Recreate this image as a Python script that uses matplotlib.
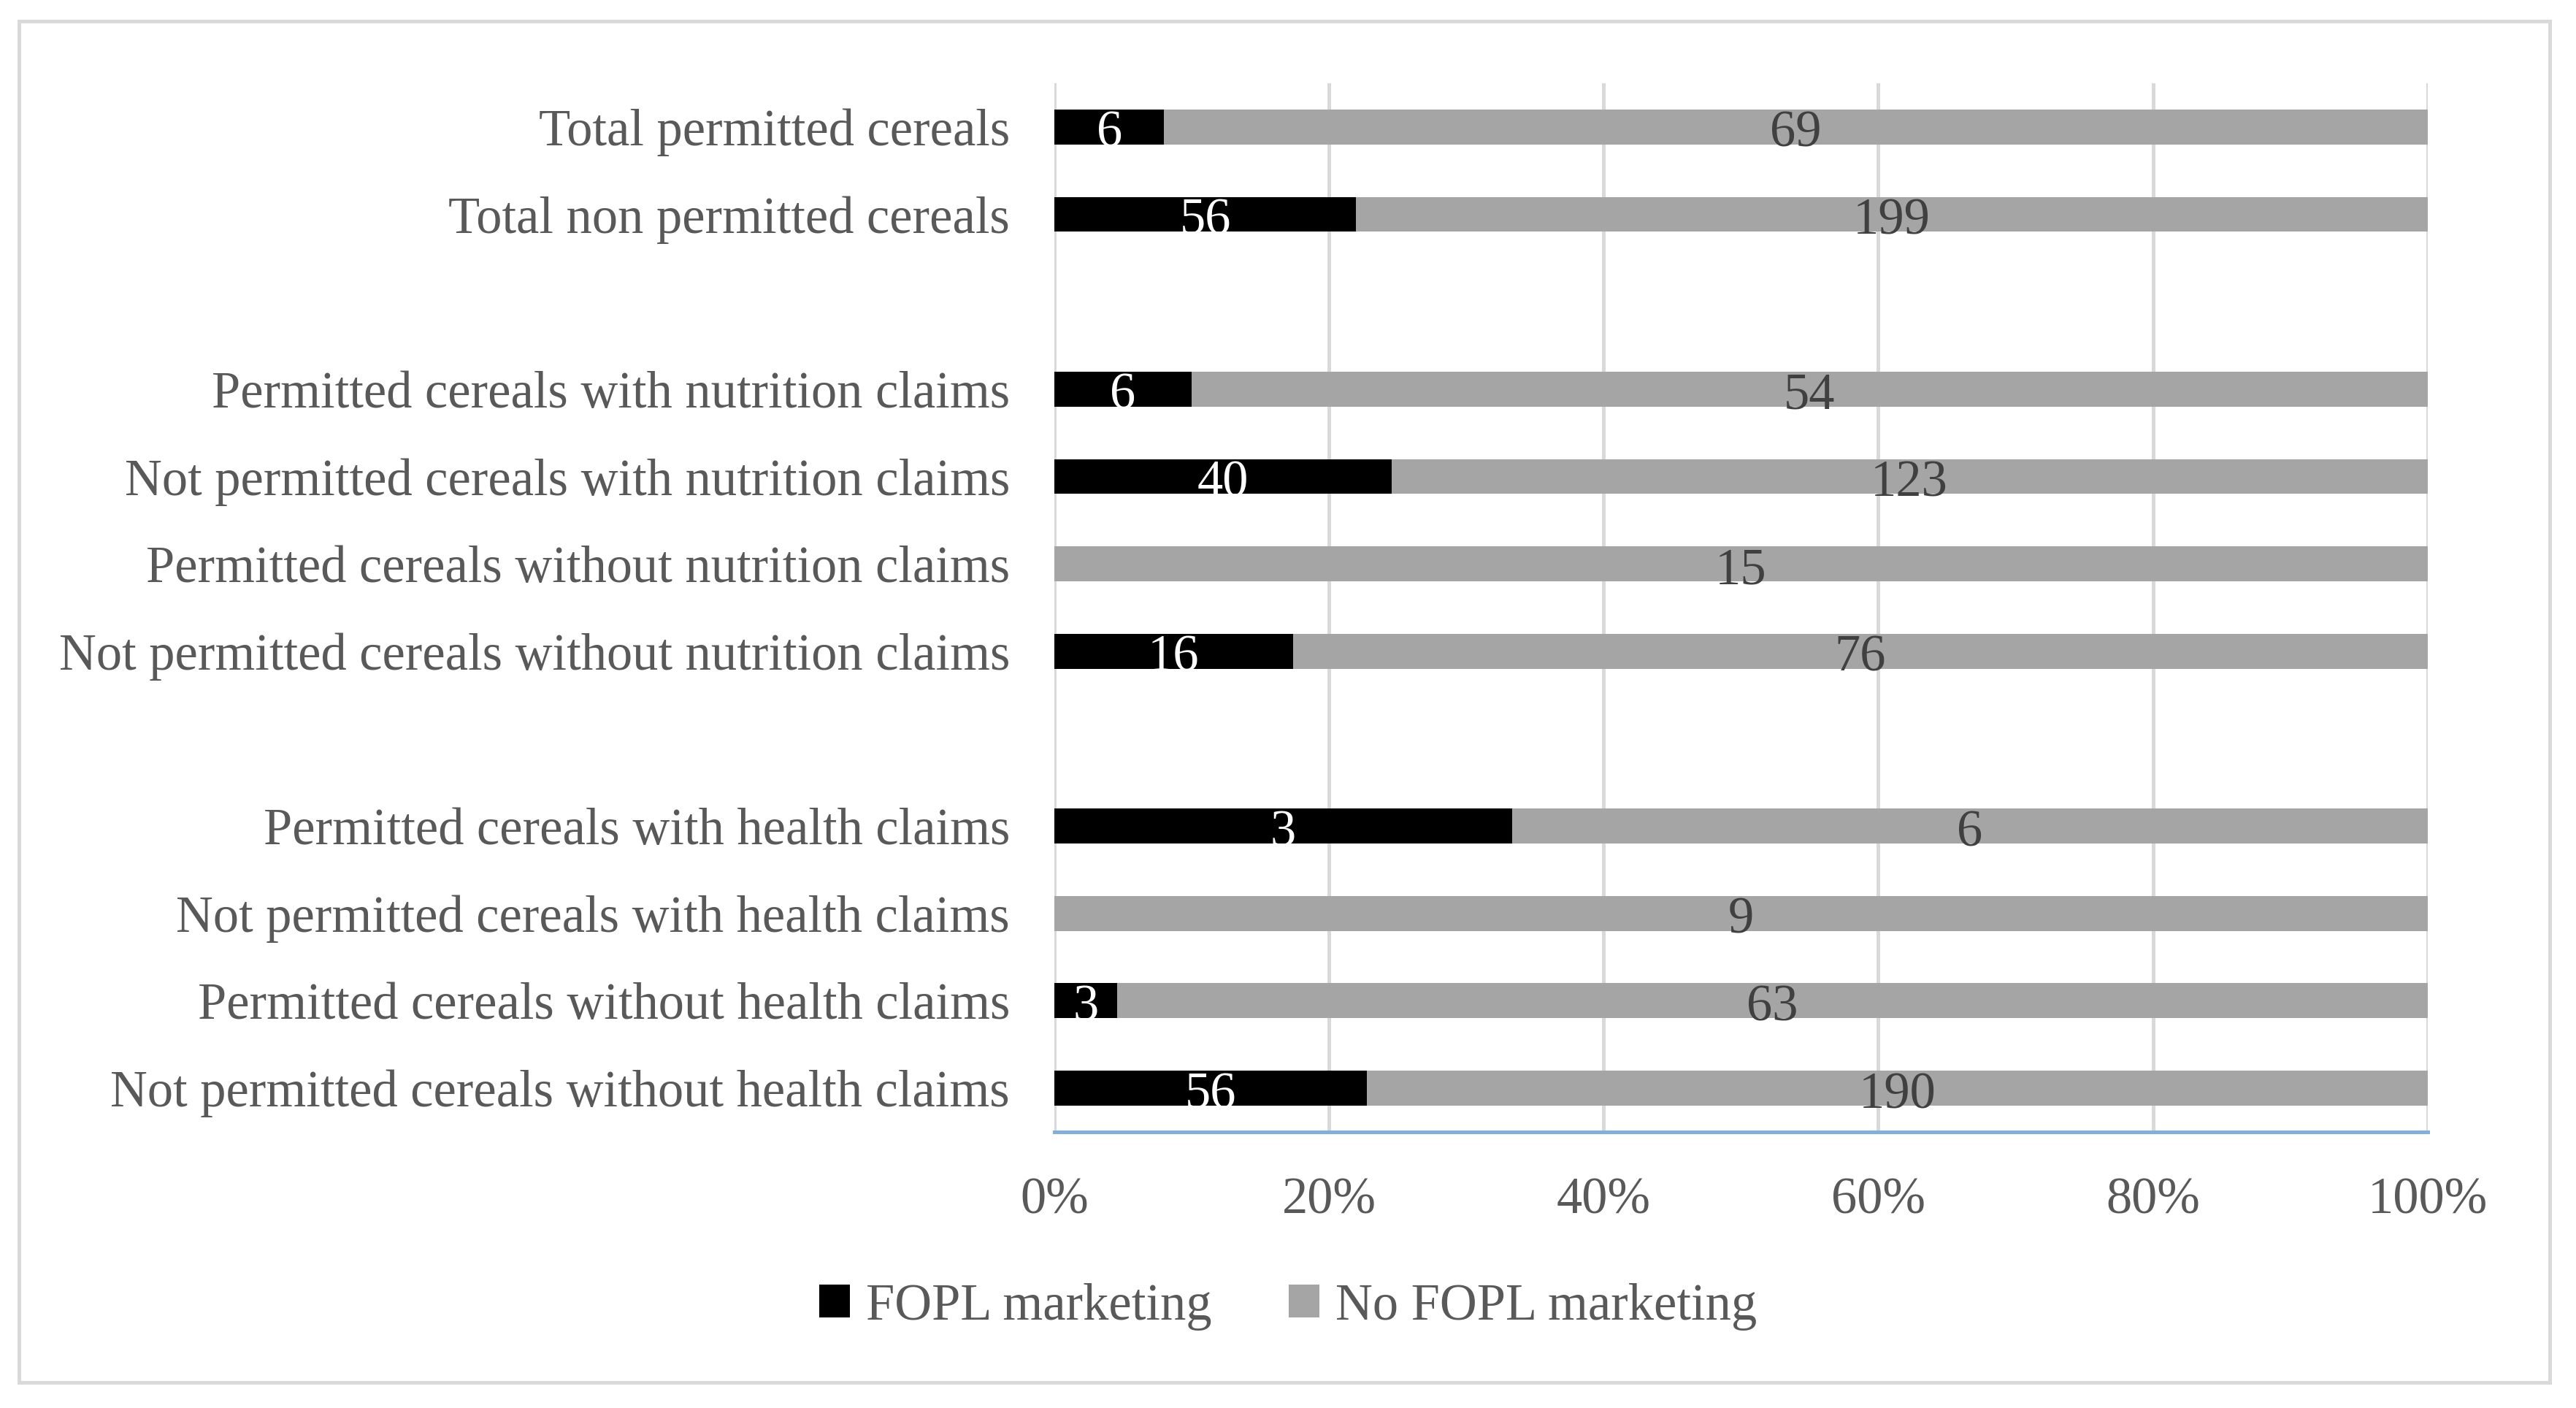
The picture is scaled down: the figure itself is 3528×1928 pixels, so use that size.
import numpy as np
import matplotlib.pyplot as plt
import matplotlib.patches as patches

# categories, top to bottom (blank entries are spacer rows)
categories = [
    'Total permitted cereals',
    'Total non permitted cereals',
    '',
    'Permitted cereals with nutrition claims',
    'Not permitted cereals with nutrition claims',
    'Permitted cereals without nutrition claims',
    'Not permitted cereals without nutrition claims',
    '',
    'Permitted cereals with health claims',
    'Not permitted cereals with health claims',
    'Permitted cereals without health claims',
    'Not permitted cereals without health claims',
]
fopl = [6, 56, 0, 6, 40, 0, 16, 0, 3, 0, 3, 56]
no_fopl = [69, 199, 0, 54, 123, 15, 76, 0, 6, 9, 63, 190]
xticks = [0, 20, 40, 60, 80, 100]

plt.rcParams['font.family'] = ['Liberation Serif', 'DejaVu Serif']
fs = 25.4

fopl = np.array(fopl, dtype=float)
no_fopl = np.array(no_fopl, dtype=float)
total = fopl + no_fopl
safe = np.where(total == 0, 1, total)
p_fopl = np.where(total == 0, 0, fopl / safe * 100)
p_no = np.where(total == 0, 0, no_fopl / safe * 100)

fig = plt.figure(figsize=(17.64, 9.64), dpi=200)
ax = fig.add_axes([0.4093, 0.1961, 0.5331, 0.7448])

y = np.arange(len(categories))
ax.barh(y, p_fopl, height=0.4, color='#000000', label='FOPL marketing', zorder=3)
ax.barh(y, p_no, left=p_fopl, height=0.4, color='#A5A5A5', label='No FOPL marketing', zorder=3)

for i in range(len(categories)):
    if fopl[i] > 0:
        ax.text(p_fopl[i] / 2, y[i] + 0.08, f'{int(fopl[i])}', ha='center', va='center',
                color='white', fontsize=fs, zorder=4)
    if no_fopl[i] > 0:
        ax.text(p_fopl[i] + p_no[i] / 2, y[i] + 0.08, f'{int(no_fopl[i])}', ha='center', va='center',
                color='#404040', fontsize=fs, zorder=4)

ax.set_ylim(len(categories) - 0.5, -0.5)
ax.set_xlim(0, 100)
ax.set_yticks(y)
ax.set_yticklabels(categories, fontsize=fs, color='#595959')
ax.set_xticks(xticks)
ax.set_xticklabels([f'{t}%' for t in xticks], fontsize=fs, color='#595959')
ax.tick_params(axis='both', length=0)
ax.tick_params(axis='x', pad=22)
ax.tick_params(axis='y', pad=22)

ax.grid(axis='x', color='#D9D9D9', linewidth=1.8, zorder=0)
for s in ['top', 'right', 'left']:
    ax.spines[s].set_visible(False)
ax.spines['bottom'].set_color('#7FB0E0')
ax.spines['bottom'].set_linewidth(1.8)
ax.spines['bottom'].set_zorder(5)

fig.legend(loc='center', bbox_to_anchor=(0.5, 0.072), ncol=2, frameon=False,
           fontsize=fs, labelcolor='#595959', handlelength=0.6, handleheight=0.6,
           handletextpad=0.3, columnspacing=1.5)

# outer chart border
fig.patches.append(patches.Rectangle((26 / 3528, 1 - 1893 / 1928), (3492 - 26) / 3528, (1893 - 29) / 1928,
                                     transform=fig.transFigure, fill=False,
                                     edgecolor='#D9D9D9', linewidth=1.8))

fig.savefig('out.png', dpi=200, facecolor='white')
